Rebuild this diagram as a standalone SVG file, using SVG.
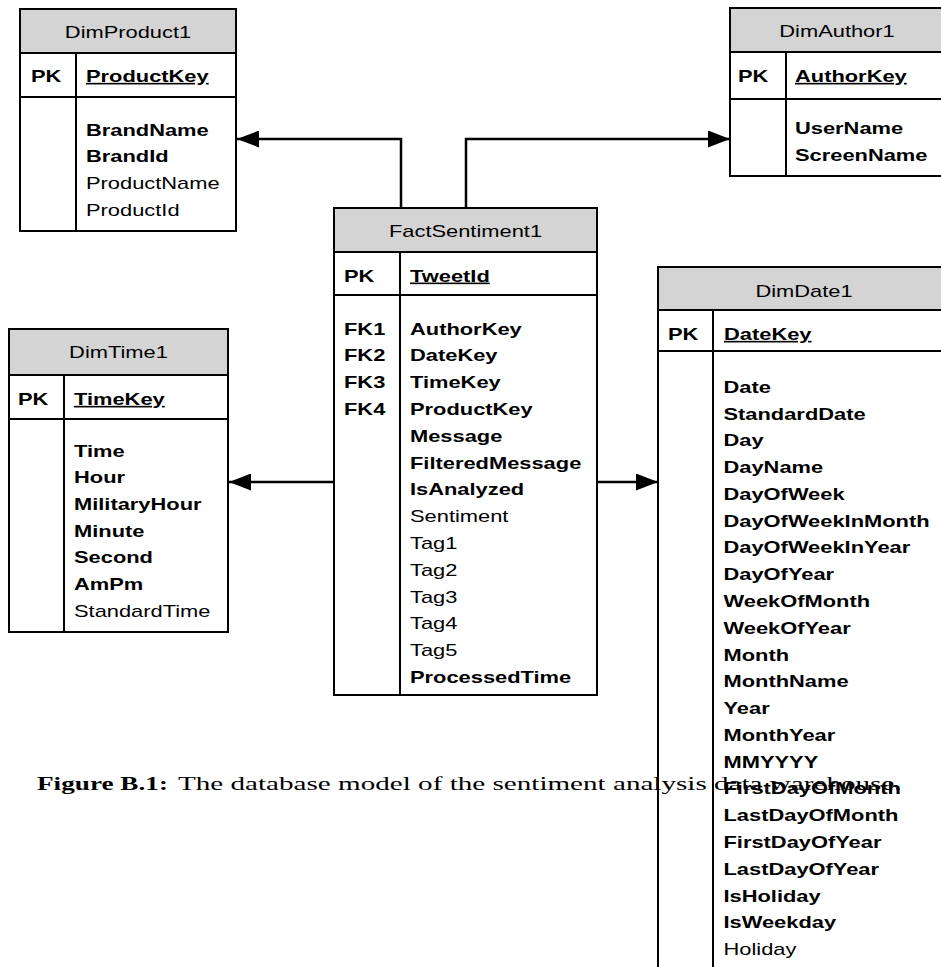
<svg xmlns="http://www.w3.org/2000/svg" width="941" height="967" viewBox="0 0 941 967">
  <style>
    .hdr { fill: #d4d4d4; stroke: none; }
    .box { fill: none; stroke: #000; stroke-width: 2; }
    .rule { stroke: #000; stroke-width: 2; }
    .t { font-family: "Liberation Sans", Arial, sans-serif; font-size: 16.2px; fill: #000; }
    .b { font-weight: bold; }
    .u { text-decoration: underline; }
    .c { text-anchor: middle; }
    .cap { font-family: "Liberation Serif", "Times New Roman", serif; font-size: 19px; fill: #000; }
    .link { fill: none; stroke: #000; stroke-width: 2.5; marker-end: url(#arrow); }
  </style>
  <defs>
    <marker id="arrow" markerUnits="userSpaceOnUse" markerWidth="22" markerHeight="17" refX="22" refY="8.5" orient="auto">
      <path d="M0,0 L22,8.5 L0,17 Z" fill="#000"/>
    </marker>
  </defs>
  <rect width="941" height="967" fill="#fff"/>

  <!-- caption -->
  <g id="caption">
    <text class="cap b" transform="translate(37,790) scale(1.35,1)" textLength="97" lengthAdjust="spacingAndGlyphs">Figure B.1:</text>
    <text class="cap" transform="translate(178,790) scale(1.35,1)" textLength="536" lengthAdjust="spacingAndGlyphs">The database model of the sentiment analysis data warehouse.</text>
  </g>

  <!-- connectors -->
  <g id="connectors">
    <path class="link" d="M401,208 V139 H237"/>
    <path class="link" d="M466,208 V139 H730"/>
    <path class="link" d="M334,482 H229"/>
    <path class="link" d="M597,482 H658"/>
  </g>

  <!-- DimProduct1 -->
  <g id="dimproduct1">
    <rect class="hdr" x="20" y="9" width="216" height="44"/>
    <rect class="box" x="20" y="9" width="216" height="222"/>
    <line class="rule" x1="20" y1="53" x2="236" y2="53"/>
    <line class="rule" x1="20" y1="97" x2="236" y2="97"/>
    <line class="rule" x1="76" y1="53" x2="76" y2="231"/>
    <text class="t c" transform="translate(128,38) scale(1.35,1)">DimProduct1</text>
    <text class="t b" transform="translate(31,82) scale(1.35,1)">PK</text>
    <text class="t b u" transform="translate(86,82) scale(1.35,1)">ProductKey</text>
    <text class="t b" transform="translate(86,135.5) scale(1.35,1)">BrandName</text>
    <text class="t b" transform="translate(86,162.2) scale(1.35,1)">BrandId</text>
    <text class="t" transform="translate(86,189) scale(1.35,1)">ProductName</text>
    <text class="t" transform="translate(86,215.7) scale(1.35,1)">ProductId</text>
  </g>

  <!-- DimAuthor1 -->
  <g id="dimauthor1">
    <rect class="hdr" x="730" y="8" width="214" height="44"/>
    <rect class="box" x="730" y="8" width="214" height="168"/>
    <line class="rule" x1="730" y1="52" x2="944" y2="52"/>
    <line class="rule" x1="730" y1="99" x2="944" y2="99"/>
    <line class="rule" x1="786" y1="52" x2="786" y2="176"/>
    <text class="t c" transform="translate(837,37) scale(1.35,1)">DimAuthor1</text>
    <text class="t b" transform="translate(738,82) scale(1.35,1)">PK</text>
    <text class="t b u" transform="translate(795,82) scale(1.35,1)">AuthorKey</text>
    <text class="t b" transform="translate(795,134) scale(1.35,1)">UserName</text>
    <text class="t b" transform="translate(795,160.8) scale(1.35,1)">ScreenName</text>
  </g>

  <!-- FactSentiment1 -->
  <g id="factsentiment1">
    <rect class="hdr" x="334" y="208" width="263" height="44"/>
    <rect class="box" x="334" y="208" width="263" height="487"/>
    <line class="rule" x1="334" y1="252" x2="597" y2="252"/>
    <line class="rule" x1="334" y1="295" x2="597" y2="295"/>
    <line class="rule" x1="400" y1="252" x2="400" y2="695"/>
    <text class="t c" transform="translate(465.5,237) scale(1.35,1)">FactSentiment1</text>
    <text class="t b" transform="translate(344,281.7) scale(1.35,1)">PK</text>
    <text class="t b u" transform="translate(410,281.7) scale(1.35,1)">TweetId</text>
    <text class="t b" transform="translate(344,334.5) scale(1.35,1)">FK1</text>
    <text class="t b" transform="translate(344,361.3) scale(1.35,1)">FK2</text>
    <text class="t b" transform="translate(344,388.1) scale(1.35,1)">FK3</text>
    <text class="t b" transform="translate(344,414.9) scale(1.35,1)">FK4</text>
    <text class="t b" transform="translate(410,334.5) scale(1.35,1)">AuthorKey</text>
    <text class="t b" transform="translate(410,361.3) scale(1.35,1)">DateKey</text>
    <text class="t b" transform="translate(410,388.1) scale(1.35,1)">TimeKey</text>
    <text class="t b" transform="translate(410,414.9) scale(1.35,1)">ProductKey</text>
    <text class="t b" transform="translate(410,441.7) scale(1.35,1)">Message</text>
    <text class="t b" transform="translate(410,468.5) scale(1.35,1)">FilteredMessage</text>
    <text class="t b" transform="translate(410,495.3) scale(1.35,1)">IsAnalyzed</text>
    <text class="t" transform="translate(410,522.1) scale(1.35,1)">Sentiment</text>
    <text class="t" transform="translate(410,548.9) scale(1.35,1)">Tag1</text>
    <text class="t" transform="translate(410,575.7) scale(1.35,1)">Tag2</text>
    <text class="t" transform="translate(410,602.5) scale(1.35,1)">Tag3</text>
    <text class="t" transform="translate(410,629.3) scale(1.35,1)">Tag4</text>
    <text class="t" transform="translate(410,656.1) scale(1.35,1)">Tag5</text>
    <text class="t b" transform="translate(410,682.9) scale(1.35,1)">ProcessedTime</text>
  </g>

  <!-- DimTime1 -->
  <g id="dimtime1">
    <rect class="hdr" x="9" y="329" width="219" height="46"/>
    <rect class="box" x="9" y="329" width="219" height="303"/>
    <line class="rule" x1="9" y1="375" x2="228" y2="375"/>
    <line class="rule" x1="9" y1="419" x2="228" y2="419"/>
    <line class="rule" x1="64" y1="375" x2="64" y2="632"/>
    <text class="t c" transform="translate(118.5,357.7) scale(1.35,1)">DimTime1</text>
    <text class="t b" transform="translate(18,405) scale(1.35,1)">PK</text>
    <text class="t b u" transform="translate(74,405) scale(1.35,1)">TimeKey</text>
    <text class="t b" transform="translate(74,456.7) scale(1.35,1)">Time</text>
    <text class="t b" transform="translate(74,483.4) scale(1.35,1)">Hour</text>
    <text class="t b" transform="translate(74,510) scale(1.35,1)">MilitaryHour</text>
    <text class="t b" transform="translate(74,536.7) scale(1.35,1)">Minute</text>
    <text class="t b" transform="translate(74,563.4) scale(1.35,1)">Second</text>
    <text class="t b" transform="translate(74,590) scale(1.35,1)">AmPm</text>
    <text class="t" transform="translate(74,616.7) scale(1.35,1)">StandardTime</text>
  </g>

  <!-- DimDate1 -->
  <g id="dimdate1">
    <rect class="hdr" x="658" y="267" width="292" height="43"/>
    <rect class="box" x="658" y="267" width="292" height="720"/>
    <line class="rule" x1="658" y1="310" x2="950" y2="310"/>
    <line class="rule" x1="658" y1="351" x2="950" y2="351"/>
    <line class="rule" x1="713" y1="310" x2="713" y2="987"/>
    <text class="t c" transform="translate(804,296.7) scale(1.35,1)">DimDate1</text>
    <text class="t b" transform="translate(668,340) scale(1.35,1)">PK</text>
    <text class="t b u" transform="translate(724,340) scale(1.35,1)">DateKey</text>
    <text class="t b" transform="translate(723.5,392.7) scale(1.35,1)">Date</text>
    <text class="t b" transform="translate(723.5,419.5) scale(1.35,1)">StandardDate</text>
    <text class="t b" transform="translate(723.5,446.3) scale(1.35,1)">Day</text>
    <text class="t b" transform="translate(723.5,473) scale(1.35,1)">DayName</text>
    <text class="t b" transform="translate(723.5,499.8) scale(1.35,1)">DayOfWeek</text>
    <text class="t b" transform="translate(723.5,526.6) scale(1.35,1)">DayOfWeekInMonth</text>
    <text class="t b" transform="translate(723.5,553.4) scale(1.35,1)">DayOfWeekInYear</text>
    <text class="t b" transform="translate(723.5,580.2) scale(1.35,1)">DayOfYear</text>
    <text class="t b" transform="translate(723.5,606.9) scale(1.35,1)">WeekOfMonth</text>
    <text class="t b" transform="translate(723.5,633.7) scale(1.35,1)">WeekOfYear</text>
    <text class="t b" transform="translate(723.5,660.5) scale(1.35,1)">Month</text>
    <text class="t b" transform="translate(723.5,687.3) scale(1.35,1)">MonthName</text>
    <text class="t b" transform="translate(723.5,714.1) scale(1.35,1)">Year</text>
    <text class="t b" transform="translate(723.5,740.8) scale(1.35,1)">MonthYear</text>
    <text class="t b" transform="translate(723.5,767.6) scale(1.35,1)">MMYYYY</text>
    <text class="t b" transform="translate(723.5,794.4) scale(1.35,1)">FirstDayOfMonth</text>
    <text class="t b" transform="translate(723.5,821.2) scale(1.35,1)">LastDayOfMonth</text>
    <text class="t b" transform="translate(723.5,848) scale(1.35,1)">FirstDayOfYear</text>
    <text class="t b" transform="translate(723.5,874.7) scale(1.35,1)">LastDayOfYear</text>
    <text class="t b" transform="translate(723.5,901.5) scale(1.35,1)">IsHoliday</text>
    <text class="t b" transform="translate(723.5,928.3) scale(1.35,1)">IsWeekday</text>
    <text class="t" transform="translate(723.5,955.1) scale(1.35,1)">Holiday</text>
  </g>
</svg>
